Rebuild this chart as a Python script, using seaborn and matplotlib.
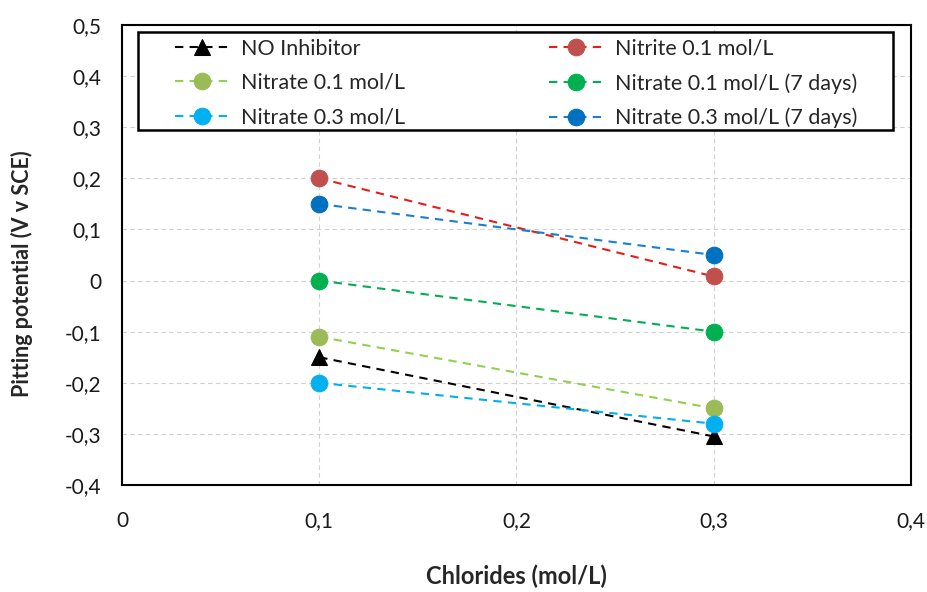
import matplotlib
matplotlib.use("Agg")
import matplotlib.pyplot as plt
from matplotlib.patches import Rectangle
from matplotlib.ticker import FuncFormatter
import seaborn as sns
import pandas as pd

chlorides = [0.1, 0.3]
no_inhibitor = [-0.15, -0.305]
nitrite_01 = [0.20, 0.008]
nitrate_01 = [-0.11, -0.25]
nitrate_01_7d = [0.0, -0.10]
nitrate_03 = [-0.20, -0.28]
nitrate_03_7d = [0.15, 0.05]

labels = ["NO Inhibitor", "Nitrite 0.1 mol/L", "Nitrate 0.1 mol/L",
          "Nitrate 0.1 mol/L (7 days)", "Nitrate 0.3 mol/L", "Nitrate 0.3 mol/L (7 days)"]
series = [no_inhibitor, nitrite_01, nitrate_01, nitrate_01_7d, nitrate_03, nitrate_03_7d]
line_colors = ["#000000", "#E0201B", "#92D050", "#00B050", "#00B0F0", "#1A7FD0"]
marker_colors = ["#000000", "#C0504D", "#9BBB59", "#00B050", "#00B0F0", "#0070C0"]
markers = ["^", "o", "o", "o", "o", "o"]

sns.set_theme(style="white")
plt.rcParams['font.family'] = ['Lato', 'DejaVu Sans']

fig = plt.figure(figsize=(9.27, 5.92), dpi=100)
ax = fig.add_axes([0.1316, 0.1807, 0.8511, 0.7771])

for lab, ys, lc, mc, mk in zip(labels, series, line_colors, marker_colors, markers):
    df = pd.DataFrame({"x": chlorides, "y": ys})
    sns.lineplot(data=df, x="x", y="y", ax=ax, color=lc, linestyle=(0, (4, 3)),
                 linewidth=1.5, marker=mk, markersize=12 if mk == "o" else 11,
                 markerfacecolor=mc, markeredgecolor=mc, label=lab)

ax.set_xlim(0, 0.4)
ax.set_ylim(-0.4, 0.5)
ax.set_xticks([0, 0.1, 0.2, 0.3, 0.4])
ax.set_yticks([-0.4, -0.3, -0.2, -0.1, 0, 0.1, 0.2, 0.3, 0.4, 0.5])
fmt = FuncFormatter(lambda v, p: "0" if abs(v) < 1e-9 else f"{v:.1f}".replace(".", ","))
ax.xaxis.set_major_formatter(fmt)
ax.yaxis.set_major_formatter(fmt)
ax.tick_params(axis="both", length=0, labelsize=15, colors="#1a1a1a")
ax.tick_params(axis="y", pad=15)
ax.tick_params(axis="x", pad=19)
ax.grid(True, color="#D0D0D0", linestyle=(0, (4, 3)), linewidth=0.8)
for s in ax.spines.values():
    s.set_color("black")
    s.set_linewidth(1.5)

ax.set_xlabel("Chlorides (mol/L)", fontsize=17, fontweight="bold", labelpad=24)
ax.set_ylabel("Pitting potential (V v SCE)", fontsize=15.5, fontweight="bold")
ax.yaxis.set_label_coords(-0.113, 0.459)

# legend frame drawn as a box behind the legend entries
frame = Rectangle((0.0203, 0.7717), 0.9569, 0.2131, transform=ax.transAxes,
                  facecolor="white", edgecolor="black", linewidth=1.8, zorder=9)
ax.add_patch(frame)

handles, labs = ax.get_legend_handles_labels()
order = [0, 2, 4, 1, 3, 5]
leg = ax.legend([handles[i] for i in order], [labs[i] for i in order],
                ncol=2, loc="upper left", bbox_to_anchor=(0.0672, 0.970), frameon=False,
                fontsize=15.5, columnspacing=6.7, handlelength=2.5, handletextpad=0.55,
                borderpad=0, borderaxespad=0, labelspacing=0.66)
leg.set_zorder(10)

fig.savefig("out.png", dpi=100)
